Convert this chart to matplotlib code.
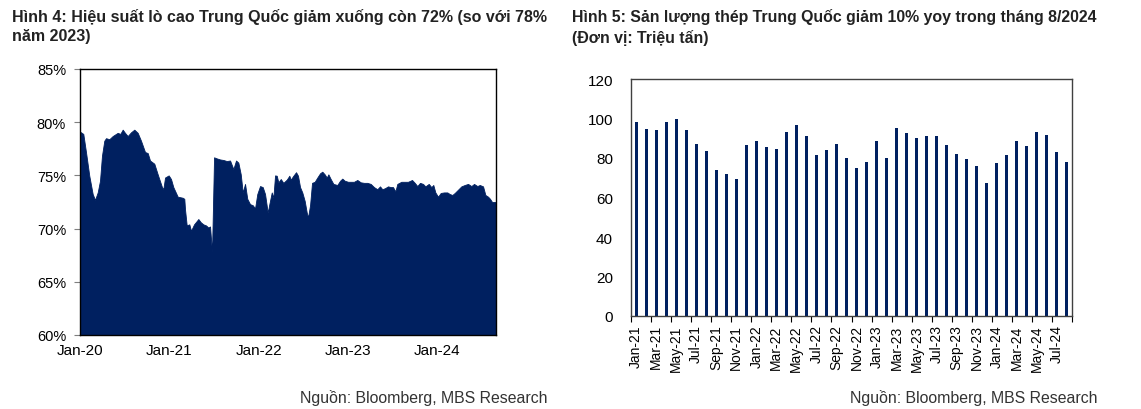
import matplotlib.pyplot as plt
import numpy as np

plt.rcParams['font.family'] = ['Liberation Sans', 'DejaVu Sans']

NAVY = '#002060'

# Hinh 4: blast furnace utilisation (%), x in years since Jan-2020
bf_t = [0.0, 0.011, 0.037, 0.067, 0.104, 0.142, 0.168, 0.198, 0.224, 0.246, 0.272,
        0.291, 0.328, 0.366, 0.422, 0.451, 0.478, 0.504, 0.534, 0.571, 0.608,
        0.646, 0.683, 0.728, 0.758, 0.784, 0.832, 0.870, 0.918, 0.933, 0.952,
        0.993, 1.019, 1.045, 1.094, 1.150, 1.168, 1.176, 1.195, 1.224, 1.243,
        1.277, 1.325, 1.352, 1.381, 1.411, 1.437, 1.456, 1.478, 1.501, 1.531,
        1.568, 1.605, 1.643, 1.680, 1.717, 1.747, 1.773, 1.800, 1.822, 1.848,
        1.873, 1.904, 1.934, 1.960, 1.985, 2.016, 2.046, 2.072, 2.102, 2.120,
        2.147, 2.165, 2.184, 2.203, 2.221, 2.248, 2.277, 2.315, 2.344, 2.359,
        2.389, 2.419, 2.441, 2.464, 2.489, 2.516, 2.539, 2.553, 2.576, 2.598,
        2.628, 2.657, 2.688, 2.713, 2.740, 2.763, 2.781, 2.807, 2.837, 2.881,
        2.912, 2.937, 2.964, 3.001, 3.031, 3.068, 3.105, 3.143, 3.180, 3.217,
        3.255, 3.292, 3.329, 3.359, 3.385, 3.415, 3.449, 3.479, 3.505, 3.531,
        3.553, 3.598, 3.636, 3.673, 3.718, 3.748, 3.777, 3.807, 3.841, 3.867,
        3.905, 3.934, 3.956, 3.979, 4.009, 4.039, 4.076, 4.113, 4.140, 4.169,
        4.196, 4.233, 4.270, 4.308, 4.345, 4.382, 4.412, 4.449, 4.476, 4.513,
        4.539, 4.569, 4.591, 4.614, 4.636, 4.658]
bf_val = [79.1, 79.05, 78.9, 77.2, 74.97, 73.25, 72.7, 73.4, 74.5, 76.85, 78.26,
          78.5, 78.4, 78.7, 79.0, 78.9, 79.3, 79.0, 78.7, 79.05, 79.3,
          79.0, 78.26, 77.2, 77.1, 76.4, 76.1, 75.1, 73.9, 73.7, 74.8,
          75.0, 74.66, 73.9, 73.0, 72.9, 72.8, 71.8, 70.3, 70.4, 69.8,
          70.4, 70.9, 70.6, 70.4, 70.3, 70.1, 70.2, 67.8, 76.7, 76.6,
          76.5, 76.45, 76.35, 76.4, 75.6, 76.4, 76.2, 75.1, 73.4, 74.2,
          72.8, 72.3, 72.2, 71.9, 73.25, 74.0, 73.9, 73.25, 71.5, 72.3,
          73.4, 72.9, 75.0, 74.97, 74.35, 74.66, 74.3, 74.6, 74.97, 74.6,
          74.97, 75.3, 74.97, 73.9, 73.4, 72.6, 71.5, 71.05, 72.2, 74.3,
          74.4, 74.8, 75.2, 75.35, 75.1, 74.8, 75.1, 74.66, 74.2, 74.1,
          74.5, 74.7, 74.5, 74.4, 74.4, 74.4, 74.57, 74.35, 74.3, 74.3,
          74.2, 73.9, 73.7, 73.97, 73.7, 73.8, 73.97, 73.9, 73.9, 73.5,
          74.2, 74.4, 74.4, 74.4, 74.57, 74.3, 74.0, 74.3, 74.2, 73.97,
          74.2, 73.9, 74.1, 73.4, 73.0, 73.35, 73.4, 73.4, 73.25, 73.16,
          73.35, 73.66, 73.97, 74.1, 74.2, 74.0, 74.2, 74.0, 74.1, 73.97,
          73.16, 73.0, 72.8, 72.5, 72.5, 72.5]
bf_ticks = ['Jan-20', 'Jan-21', 'Jan-22', 'Jan-23', 'Jan-24']

# Hinh 5: monthly crude steel output (million tonnes), Jan-21 .. Aug-24
months = ['Jan-21', 'Feb-21', 'Mar-21', 'Apr-21', 'May-21', 'Jun-21', 'Jul-21', 'Aug-21',
          'Sep-21', 'Oct-21', 'Nov-21', 'Dec-21', 'Jan-22', 'Feb-22', 'Mar-22', 'Apr-22',
          'May-22', 'Jun-22', 'Jul-22', 'Aug-22', 'Sep-22', 'Oct-22', 'Nov-22', 'Dec-22',
          'Jan-23', 'Feb-23', 'Mar-23', 'Apr-23', 'May-23', 'Jun-23', 'Jul-23', 'Aug-23',
          'Sep-23', 'Oct-23', 'Nov-23', 'Dec-23', 'Jan-24', 'Feb-24', 'Mar-24', 'Apr-24',
          'May-24', 'Jun-24', 'Jul-24', 'Aug-24']
steel = [98.1, 94.5, 94.0, 98.1, 99.6, 94.0, 86.9, 83.4, 73.9, 71.7, 69.3, 86.4,
         88.6, 85.4, 84.4, 93.0, 96.7, 91.0, 81.5, 84.0, 86.9, 79.8, 74.7, 77.9,
         88.6, 80.1, 95.0, 92.6, 90.3, 91.1, 90.9, 86.4, 82.2, 79.3, 76.1, 67.4,
         77.3, 81.3, 88.6, 86.1, 93.0, 91.6, 83.0, 77.9]

fig = plt.figure(figsize=(11.41, 4.10), dpi=100)

# ---- left chart
ax1 = fig.add_axes([80/1141, 74/410, 416/1141, 266/410])
ax1.fill_between(bf_t, 60, bf_val, color=NAVY, lw=0.6, edgecolor=NAVY)
ax1.set_xlim(0, 4.658)
ax1.set_ylim(60, 85)
ax1.set_yticks(np.arange(60, 86, 5))
ax1.set_yticklabels([f'{v}%' for v in range(60, 86, 5)])
ax1.set_xticks(range(len(bf_ticks)))
ax1.set_xticklabels(bf_ticks)
ax1.tick_params(axis='y', direction='out', length=4, width=0.8, color='#7f7f7f',
                labelsize=10.5, pad=6)
ax1.tick_params(axis='x', length=0, labelsize=11, pad=6)
for s in ax1.spines.values():
    s.set_linewidth(1.0)
    s.set_color('black')

# ---- right chart
x = np.arange(len(steel))
ax2 = fig.add_axes([631/1141, 93/410, 441/1141, 237/410])
ax2.bar(x, steel, width=0.3, color=NAVY)
ax2.set_xlim(-0.5, len(steel) - 0.5)
ax2.set_ylim(0, 120)
ax2.set_yticks(range(0, 121, 20))
ax2.tick_params(axis='y', length=0, labelsize=11, pad=13)
ax2.set_xticks(x[::2])
ax2.set_xticklabels(months[::2], rotation=90)
ax2.set_xticks(np.arange(-0.5, len(steel), 2), minor=True)
ax2.tick_params(axis='x', which='major', length=0, labelsize=10, pad=6)
ax2.tick_params(axis='x', which='minor', direction='out', length=4, width=0.8)
for s in ax2.spines.values():
    s.set_linewidth(1.0)
    s.set_color('#404040')

# ---- titles and sources
fig.text(12/1141, 1 - 9/410, 'Hình 4: Hiệu suất lò cao Trung Quốc giảm xuống còn 72% (so với 78%\nnăm 2023)',
         fontsize=11.5, fontweight='bold', va='top', ha='left', linespacing=1.35, color='#222222')
fig.text(572/1141, 1 - 9/410, 'Hình 5: Sản lượng thép Trung Quốc giảm 10% yoy trong tháng 8/2024\n(Đơn vị: Triệu tấn)',
         fontsize=11.4, fontweight='bold', va='top', ha='left', linespacing=1.35, color='#222222')
fig.text(548/1141, 1 - 398/410, 'Nguồn: Bloomberg, MBS Research', fontsize=11.4,
         ha='right', va='center', color='#333333')
fig.text(1097/1141, 1 - 398/410, 'Nguồn: Bloomberg, MBS Research', fontsize=11.4,
         ha='right', va='center', color='#333333')

fig.savefig('out.png', dpi=100)
